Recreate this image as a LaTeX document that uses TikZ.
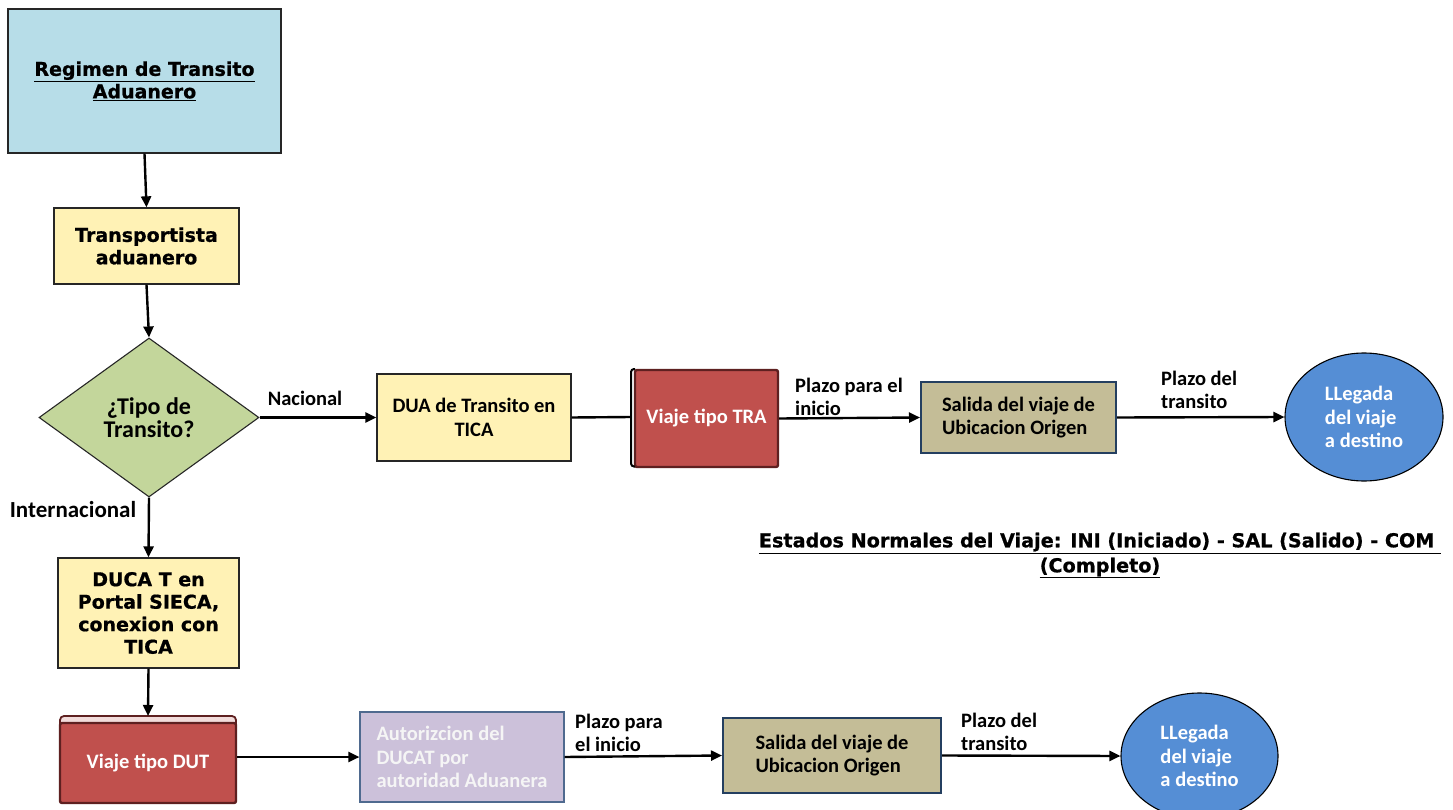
\documentclass[tikz,border=0pt]{standalone}
\usepackage{fontspec}
\setmainfont{Carlito}
\newfontfamily\verd{DejaVu Sans}[BoldFeatures={FakeBold=0.8}]
\usetikzlibrary{shapes.geometric,arrows.meta}
\definecolor{bluefill}{HTML}{B7DDE8}
\definecolor{yelfill}{HTML}{FFF2B5}
\definecolor{grnfill}{HTML}{C3D69B}
\definecolor{redfill}{HTML}{C0504D}
\definecolor{redline}{HTML}{5E2020}
\definecolor{pinkfill}{HTML}{F2DCDB}
\definecolor{tanfill}{HTML}{C4BD97}
\definecolor{tanline}{HTML}{243F60}
\definecolor{lavfill}{HTML}{CCC1DA}
\definecolor{lavline}{HTML}{4F6A8F}
\definecolor{ellfill}{HTML}{558ED5}
\tikzset{
  vfont/.style={font=\verd\bfseries\fontsize{19}{22.5}\selectfont},
  cfont/.style={font=\bfseries\fontsize{20.5}{23.5}\selectfont},
  basebox/.style={draw=black!85, line width=1.3pt, inner sep=0pt, align=center},
  yelbox/.style={basebox, fill=yelfill},
  redbox/.style={draw=redline, line width=2.4pt, rounded corners=2pt, fill=redfill, inner sep=0pt, text=white, cfont},
  tanbox/.style={draw=tanline, line width=2pt, fill=tanfill, inner sep=0pt, cfont, align=left},
  ellnode/.style={ellipse, draw=black, line width=1.1pt, fill=ellfill, inner sep=0pt, text=white, cfont, align=left},
  lbl/.style={cfont, align=left, inner sep=0pt},
  arr/.style={-{Triangle[length=11pt,width=10pt]}, line width=2.4pt},
  plain/.style={line width=2.4pt}
}
\begin{document}
\begin{tikzpicture}[x=1pt,y=-1pt]
\clip (0,0) rectangle (1453,810);
\fill[white] (0,0) rectangle (1453,810);

% nodes
\node[basebox, fill=bluefill, minimum width=273pt, minimum height=144pt, vfont] (reg) at (144.5,81) {\underline{Regimen de Transito}\\\underline{Aduanero}};
\node[yelbox, minimum width=185pt, minimum height=76pt, vfont] (trans) at (146.5,246) {Transportista\\aduanero};
\node[diamond, draw=black!85, line width=1.1pt, fill=grnfill, aspect=1.38, inner sep=0pt, minimum width=220pt, minimum height=159pt, align=center, font=\bfseries\fontsize{24}{23}\selectfont] (dia) at (149,417.5) {¿Tipo de\\Transito?};
\node[yelbox, minimum width=194pt, minimum height=87pt, cfont] (dua) at (474,417.5) {DUA de Transito en\\TICA};
\node[redbox, minimum width=143pt, minimum height=97pt] (tra) at (706.5,418.5) {Viaje tipo TRA};
\draw[line width=2pt, rounded corners=3pt] (635,369) -- (631,369) -- (631,466.5) -- (635,466.5);
\coordinate (train) at (631,417);
\node[tanbox, minimum width=195pt, minimum height=71pt] (sal1) at (1018.5,417.5) {Salida del viaje de\\Ubicacion Origen};
\node[ellnode, minimum width=158pt, minimum height=128pt] (ell1) at (1364,417) {LLegada\\del viaje\\a destino};

\node[font=\verd\bfseries\fontsize{19.2}{25}\selectfont, align=center, inner sep=0pt] (est) at (1100,555.5) {\underline{Estados Normales del Viaje: INI (Iniciado) - SAL (Salido) - COM\ }\\\underline{(Completo)}};

\node[yelbox, minimum width=181pt, minimum height=110pt, vfont] (duca) at (148.5,613) {DUCA T en\\Portal SIECA,\\conexion con\\TICA};
\draw[draw=redline, line width=1.8pt, fill=pinkfill, rounded corners=4pt] (60,726) -- (60,716) -- (236,716) -- (236,726);
\coordinate (dutbar) at (148,716);
\node[redbox, minimum width=176pt, minimum height=80pt] (dut) at (148,763) {Viaje tipo DUT};
\node[draw=lavline, line width=1.1pt, fill=lavfill, minimum width=204pt, minimum height=90pt, inner sep=0pt, text=white!96!black, cfont, align=left] (aut) at (462,757) {Autorizcion del\\DUCAT por\\autoridad Aduanera};
\node[tanbox, minimum width=218pt, minimum height=75pt] (sal2) at (832,755.5) {Salida del viaje de\\Ubicacion Origen};
\node[ellnode, minimum width=157pt, minimum height=126pt] (ell2) at (1199.5,756) {LLegada\\del viaje\\a destino};

% labels
\node[lbl] (lnac) at (305,398) {Nacional};
\node[lbl, font=\bfseries\fontsize{23}{25}\selectfont] (lint) at (73,510) {Internacional};
\node[lbl, anchor=west] (lp1) at (795,397) {Plazo para el\\inicio};
\node[lbl, anchor=west] (lt1) at (1161,390) {Plazo del\\transito};
\node[lbl, anchor=west] (lp2) at (575,733) {Plazo para\\el inicio};
\node[lbl, anchor=west] (lt2) at (961,732) {Plazo del\\transito};

% connectors
\draw[arr] (reg.south) -- (trans.north);
\draw[arr] (trans.south) -- (dia.north);
\draw[arr] (dia.east) -- (dua.west);
\draw[plain] (dua.east) -- (train);
\draw[arr] (tra.east) -- (sal1.west);
\draw[arr] (sal1.east) -- (ell1.west);
\draw[arr] (dia.south) -- (duca.north);
\draw[arr] (duca.south) -- (dutbar);
\draw[arr] (aut.west -| dut.east) -- (aut.west);
\draw[arr] (aut.east) -- (sal2.west);
\draw[arr] (sal2.east) -- (ell2.west);
\end{tikzpicture}
\end{document}
